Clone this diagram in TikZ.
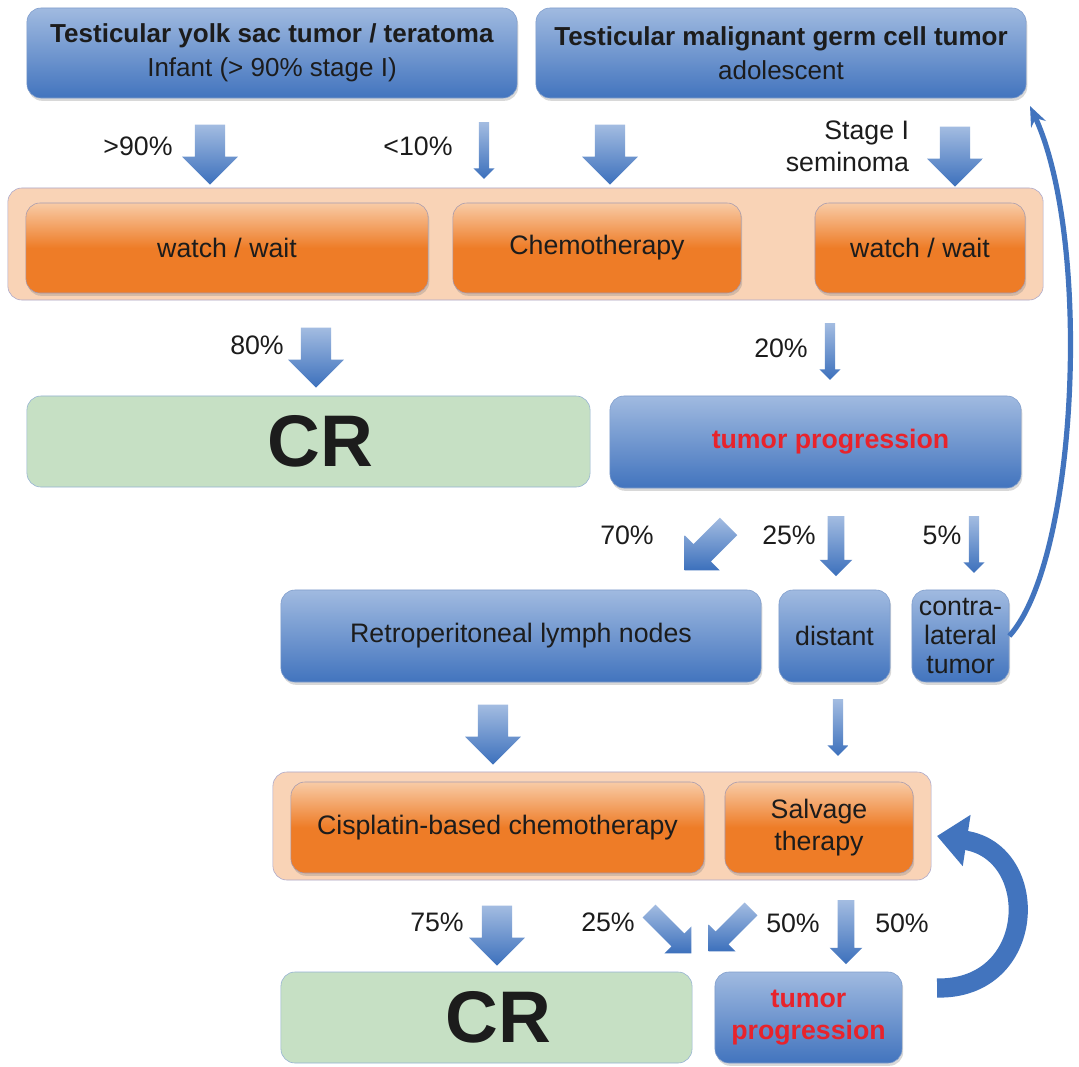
\documentclass[tikz,border=0pt]{standalone}
\usepackage{fontspec}
\setmainfont{Liberation Sans}
\usetikzlibrary{shapes.arrows,shadows,arrows.meta}

\definecolor{bluetop}{HTML}{A0BAE0}
\definecolor{bluebot}{HTML}{4274BE}
\definecolor{blueline}{HTML}{7F9DCC}
\definecolor{orangetop}{HTML}{F8CBA6}
\definecolor{orangebot}{HTML}{EE7C27}
\definecolor{orangeline}{HTML}{A59AB0}
\definecolor{panelfill}{HTML}{F9D3B6}
\definecolor{panelline}{HTML}{ABA7CB}
\definecolor{crfill}{HTML}{C6E0C4}
\definecolor{crline}{HTML}{95B2D3}
\definecolor{progred}{HTML}{E8232B}
\definecolor{ink}{HTML}{1C1C1C}
\definecolor{arrowtop}{HTML}{A3BCE1}
\definecolor{arrowbot}{HTML}{3C70BC}

\begin{document}
\begin{tikzpicture}[x=0.025cm, y=-0.025cm,
    font=\fontsize{19pt}{23pt}\selectfont, text=ink,
    box/.style={rounded corners=0.35cm, inner sep=0pt, align=center,
      drop shadow={opacity=0.3, shadow xshift=0.3mm, shadow yshift=-0.7mm}},
    bluebox/.style={box, draw=blueline, top color=bluetop, bottom color=bluebot},
    orangebox/.style={box, draw=orangeline, top color=orangetop, bottom color=orangebot,
      middle color=orangebot},
    panel/.style={rounded corners=0.35cm, draw=panelline, fill=panelfill, inner sep=0pt},
    crbox/.style={rounded corners=0.35cm, draw=crline, fill=crfill, inner sep=0pt,
      font=\fontsize{52pt}{56pt}\bfseries\selectfont},
    progtext/.style={text=progred, font=\fontsize{19pt}{23pt}\bfseries\selectfont},
    % block arrows between the boxes: inner sep gives half the shaft
    fatarrow/.style={single arrow, draw=none, single arrow tip angle=90,
      top color=arrowtop, bottom color=arrowbot},
    bigarrow/.style={fatarrow, inner sep=0.37cm, single arrow head extend=0.32cm,
      minimum height=1.5cm},
    midarrow/.style={fatarrow, inner sep=0.2cm, single arrow head extend=0.2cm,
      minimum height=1.5cm},
    diagarrow/.style={fatarrow, inner sep=0.3cm, single arrow head extend=0.31cm,
      minimum height=1.55cm},
    thinarrow/.style={fatarrow, inner sep=0.12cm, single arrow head extend=0.14cm,
      minimum height=1.42cm},
    pointdown/.style={shape border rotate=270},
    backline/.style={draw=bluebot, line width=0.13cm, -{Stealth[length=0.5cm, width=0.4cm]}},
    loopline/.style={draw=bluebot, line width=0.48cm, -{Triangle[length=0.75cm, width=1.25cm]}}
  ]
  \fill[white] (0,0) rectangle (1079,1066);
  \useasboundingbox (0,0) rectangle (1079,1066);

  % first line: the two tumours
  \node[bluebox, minimum width=12.25cm, minimum height=2.25cm,
    font=\fontsize{18.5pt}{24pt}\selectfont] (yolk) at (272,53)
    {\textbf{Testicular yolk sac tumor / teratoma}\\Infant (> 90\% stage I)};
  \node[bluebox, minimum width=12.25cm, minimum height=2.25cm,
    font=\fontsize{18.5pt}{24pt}\selectfont] (germ) at (781,53)
    {\textbf{Testicular malignant germ cell tumor}\\adolescent};

  \node[bigarrow, pointdown] (a1) at (210,147) {};
  \node (p1) at (138,146) {>90\%};
  \node[thinarrow, pointdown] (a2) at (484,148) {};
  \node (p2) at (418,146) {<10\%};
  \node[bigarrow, pointdown] (a3) at (610,147) {};
  \node[bigarrow, pointdown] (a4) at (955,149) {};
  \node[anchor=east, align=right] (p3) at (914,146) {Stage I\\seminoma};

  % first treatment panel
  \node[panel, minimum width=25.875cm, minimum height=2.8cm] (treat) at (525.5,244) {};
  \node[orangebox, minimum width=10.05cm, minimum height=2.25cm] (wait1) at (227,248) {watch / wait};
  \node[orangebox, minimum width=7.2cm, minimum height=2.25cm] (chemo) at (597,248) {Chemotherapy};
  \node[orangebox, minimum width=5.25cm, minimum height=2.25cm] (wait2) at (920,248) {watch / wait};

  \node[bigarrow, pointdown] (a5) at (316,350) {};
  \node (p4) at (257,345) {80\%};
  \node[thinarrow, pointdown] (a6) at (830,349) {};
  \node (p5) at (781,348) {20\%};

  \node[crbox, minimum width=14.075cm, minimum height=2.275cm] (cr1) at (308.5,441.5)
    {\hspace*{0.6cm}CR};
  \node[bluebox, minimum width=10.275cm, minimum height=2.3cm] (prog1) at (815.5,442)
    {\hspace*{0.75cm}\textcolor{progred}{\textbf{tumor progression}}};

  \node[diagarrow, rotate=-135] (a7) at (711,544) {};
  \node (p6) at (627,535) {70\%};
  \node[midarrow, pointdown] (a8) at (836,542) {};
  \node (p7) at (789,535) {25\%};
  \node[thinarrow, pointdown] (a9) at (974,542) {};
  \node (p8) at (942,535) {5\%};

  % sites of progression
  \node[bluebox, minimum width=12cm, minimum height=2.3cm] (rpln) at (521,636) {Retroperitoneal lymph nodes};
  \node[bluebox, minimum width=2.775cm, minimum height=2.3cm] (distant) at (834.5,636) {distant};
  \node[bluebox, minimum width=2.425cm, minimum height=2.3cm,
    font=\fontsize{19pt}{20.5pt}\selectfont] (contra) at (960.5,636) {contra-\\lateral\\tumor};

  \coordinate (backtip) at (1030,106);
  \draw[backline] (contra.east) .. controls (1078,560) and (1092,240) .. (backtip);

  \node[bigarrow, pointdown] (a10) at (493,727) {};
  \node[thinarrow, pointdown] (a11) at (838,725) {};

  % second treatment panel
  \node[panel, minimum width=16.45cm, minimum height=2.7cm] (treat2) at (602,826) {};
  \node[orangebox, minimum width=10.325cm, minimum height=2.275cm] (cis) at (497.5,827.5)
    {Cisplatin-based chemotherapy};
  \node[orangebox, minimum width=4.7cm, minimum height=2.275cm] (salv) at (819,827.5)
    {Salvage\\therapy};

  \node[bigarrow, pointdown] (a12) at (497,928) {};
  \node (p9) at (437,922) {75\%};
  \node[midarrow, inner sep=0.22cm, single arrow head extend=0.25cm,
    rotate=-45] (a13) at (667,929) {};
  \node (p10) at (608,922) {25\%};
  \node[midarrow, inner sep=0.22cm, single arrow head extend=0.25cm,
    rotate=-135] (a14) at (733,927) {};
  \node (p11) at (793,923) {50\%};
  \node[midarrow, pointdown, minimum height=1.6cm] (a15) at (846,928) {};
  \node (p12) at (902,923) {50\%};

  \node[crbox, minimum width=10.275cm, minimum height=2.275cm] (cr2) at (486.5,1017.5)
    {\hspace*{0.6cm}CR};
  \node[bluebox, minimum width=4.675cm, minimum height=2.275cm, progtext] (prog2) at (808.5,1017.5)
    {tumor\\progression};

  \coordinate (looptail) at (937,988);
  \coordinate (loophead) at (937,836);
  \draw[loopline] (looptail) .. controls (1038,990) and (1042,852) .. (loophead);
\end{tikzpicture}
\end{document}
